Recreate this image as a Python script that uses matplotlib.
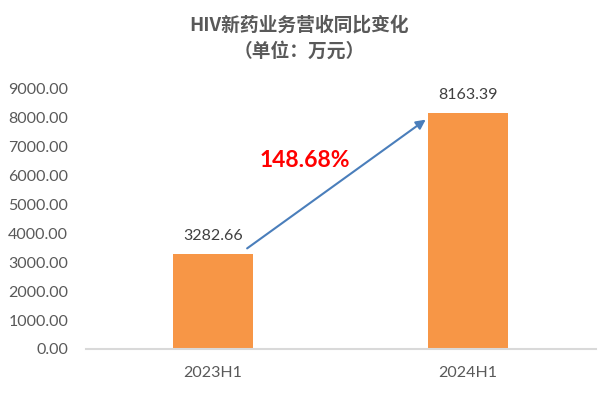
import matplotlib
matplotlib.use("Agg")
import matplotlib.pyplot as plt

plt.rcParams['font.family'] = ['Lato', 'Noto Sans CJK SC', 'DejaVu Sans']

categories = ['2023H1', '2024H1']
values = [3282.66, 8163.39]
growth_label = '148.68%'
yticks = [0, 1000, 2000, 3000, 4000, 5000, 6000, 7000, 8000, 9000]

fig = plt.figure(figsize=(5.98, 3.94), dpi=100)
ax = fig.add_axes([85.5/598, 1 - 349/394, 510/598, 260/394])

x = list(range(len(categories)))
ax.bar(x, values, width=0.314, color='#F79646', zorder=2)
ax.set_xlim(-0.5, 1.5)
ax.set_ylim(0, 9000)
ax.set_yticks(yticks)
ax.set_yticklabels([f'{v:.2f}' for v in yticks], fontsize=11.5, color='#595959')
ax.set_xticks(x)
ax.set_xticklabels(categories, fontsize=11.5, color='#595959')
ax.tick_params(axis='y', length=0, pad=12.5)
ax.tick_params(axis='x', length=0, pad=12)
for s in ['top', 'right', 'left']:
    ax.spines[s].set_visible(False)
ax.spines['bottom'].set_color('#D9D9D9')
ax.spines['bottom'].set_linewidth(1.5)

for xi, v in zip(x, values):
    ax.text(xi, v + 400, f'{v:.2f}', ha='center', va='bottom', fontsize=11.5, color='#404040')

ax.annotate('', xy=(0.843, 7996), xytext=(0.125, 3427),
            arrowprops=dict(arrowstyle='-|>', color='#4A7EBB', lw=1.5, mutation_scale=14))
ax.text(0.36, 6542, growth_label, ha='center', va='center', fontsize=16.5,
        fontweight='bold', color='#FF0000')

fig.text(0.5, 1 - 25/394, 'HIV新药业务营收同比变化', ha='center', va='center',
         fontsize=13.5, fontweight='bold', color='#595959',
         family=['Noto Sans CJK SC', 'DejaVu Sans'])
fig.text(0.5, 1 - 51/394, '（单位：万元）', ha='center', va='center',
         fontsize=13.5, fontweight='bold', color='#595959',
         family=['Noto Sans CJK SC', 'DejaVu Sans'])

fig.savefig('out.png', dpi=100)
